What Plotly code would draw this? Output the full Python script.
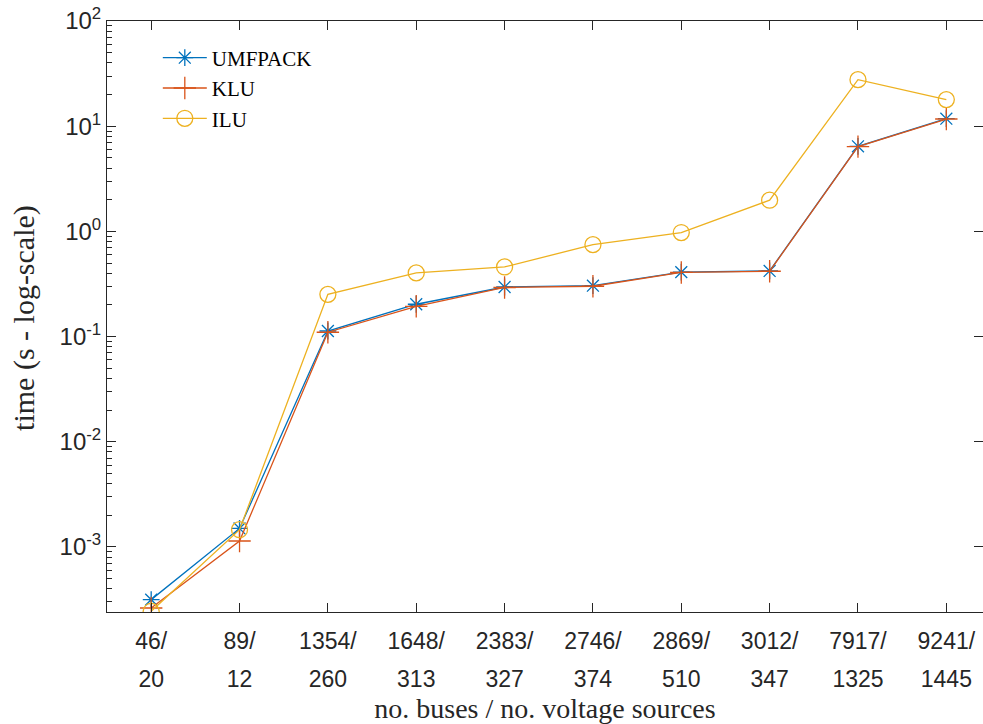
import plotly.graph_objects as go

# ---- data ----
categories = ["46/20", "89/12", "1354/260", "1648/313", "2383/327",
              "2746/374", "2869/510", "3012/347", "7917/1325", "9241/1445"]
umfpack = [3.16e-4, 1.50e-3, 0.113, 0.203, 0.296, 0.305, 0.410, 0.421, 6.44, 11.8]
klu     = [2.63e-4, 1.14e-3, 0.110, 0.194, 0.293, 0.301, 0.407, 0.418, 6.40, 11.7]
ilu     = [2.45e-4, 1.46e-3, 0.252, 0.403, 0.459, 0.748, 0.975, 1.98, 27.7, 17.9]
series_names = ["UMFPACK", "KLU", "ILU"]
y_tick_exps = [-3, -2, -1, 0, 1, 2]

top_text = [c.split("/")[0] + "/" for c in categories]
bot_text = [c.split("/")[1] for c in categories]

AX = "#262626"
SANS = "Liberation Sans, Arial, sans-serif"
SERIF = "Liberation Serif, Times New Roman, serif"

colors = ["#0072BD", "#D95319", "#EDB120"]
symbols = ["asterisk-open", "cross-thin-open", "circle-open"]
sizes = [14, 16, 16]

fig = go.Figure()
for name, vals, col, sym, sz in zip(series_names, [umfpack, klu, ilu], colors, symbols, sizes):
    fig.add_trace(go.Scatter(
        x=categories, y=vals, name=name, mode="lines+markers",
        line=dict(color=col, width=1.3),
        marker=dict(symbol=sym, size=sz, color=col, line=dict(color=col, width=1.3)),
    ))

n = len(categories)
xr = [-0.5, n - 1 + 0.415]
yr = [-3.618, 2.0]

major_vals = [10.0 ** e for e in y_tick_exps]
major_text = ["10<sup>%d</sup>" % e for e in y_tick_exps]
minor_vals = [m * 10.0 ** e for e in range(-4, 2) for m in range(2, 10)]

fig.update_layout(
    width=983, height=724,
    margin=dict(l=107, r=0, t=21, b=112),
    paper_bgcolor="white", plot_bgcolor="white",
    showlegend=True,
    legend=dict(x=0.058, y=0.972, xanchor="left", yanchor="top",
                font=dict(family=SERIF, size=21, color="black"),
                bgcolor="rgba(0,0,0,0)", borderwidth=0, tracegroupgap=0,
                itemwidth=44),
    xaxis=dict(
        type="category", categoryorder="array", categoryarray=categories,
        range=xr, tickmode="array", tickvals=categories, ticktext=top_text,
        ticks="inside", ticklen=9, tickcolor=AX, tickwidth=1,
        showline=True, linecolor=AX, linewidth=1, mirror="ticks",
        showgrid=False, zeroline=False,
        tickfont=dict(family=SANS, size=23, color=AX),
        ticklabelstandoff=8,
        title=dict(text="no. buses / no. voltage sources",
                   font=dict(family=SERIF, size=28, color=AX), standoff=45),
    ),
    xaxis2=dict(
        type="category", categoryorder="array", categoryarray=categories,
        overlaying="x", side="bottom", range=xr, tickmode="array",
        tickvals=categories, ticktext=bot_text, ticks="", showline=False,
        showgrid=False, zeroline=False,
        tickfont=dict(family=SANS, size=23, color=AX),
        ticklabelstandoff=51,
    ),
    yaxis=dict(
        type="log", range=yr, tickmode="array", tickvals=major_vals, ticktext=major_text,
        ticks="inside", ticklen=9, tickcolor=AX, tickwidth=1,
        showline=True, linecolor=AX, linewidth=1,
        showgrid=False, zeroline=False,
        tickfont=dict(family=SANS, size=24, color=AX),
        minor=dict(tickmode="array", tickvals=minor_vals, ticks="inside",
                   ticklen=5, tickcolor=AX, showgrid=False),
    ),
    yaxis2=dict(
        type="log", range=yr, overlaying="y", side="right", tickmode="array",
        tickvals=major_vals, showticklabels=False,
        ticks="inside", ticklen=9, tickcolor=AX, showline=False,
        showgrid=False, zeroline=False,
    ),
    annotations=[dict(
        text="time (s - log-scale)", textangle=-90, showarrow=False,
        xref="paper", yref="paper", x=-0.094, y=0.497,
        xanchor="center", yanchor="middle",
        font=dict(family=SERIF, size=30, color=AX),
    )],
)

# invisible trace so the overlay axes are drawn
fig.add_trace(go.Scatter(x=categories, y=umfpack, xaxis="x2", yaxis="y2",
                         mode="markers", marker=dict(opacity=0), showlegend=False,
                         hoverinfo="skip"))

fig.write_html("out.html")
